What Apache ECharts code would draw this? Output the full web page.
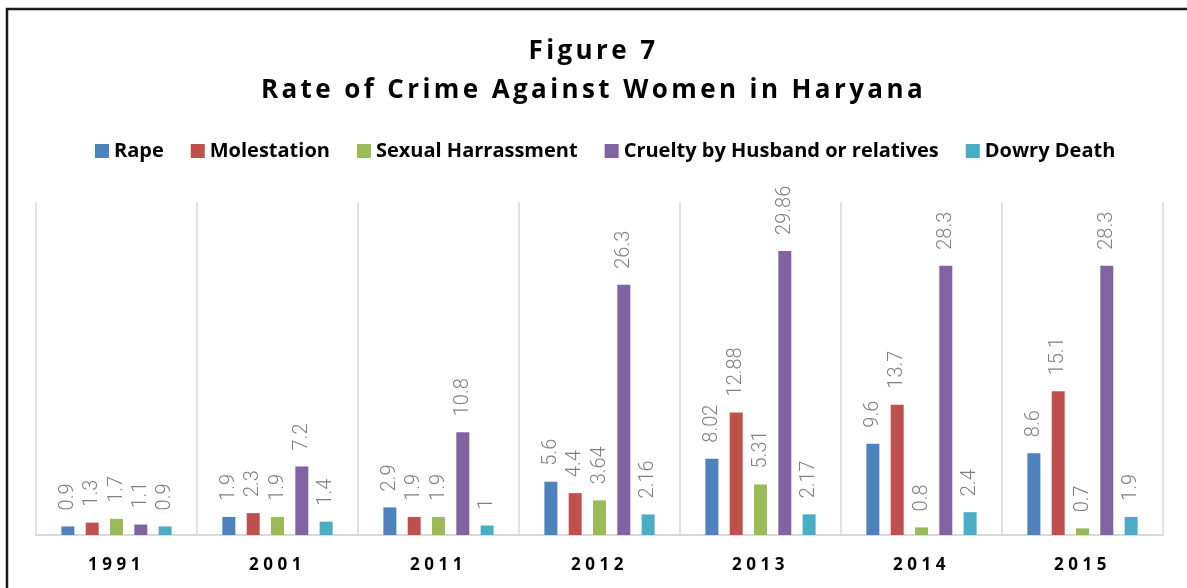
<!DOCTYPE html>
<html>
<head>
<meta charset="utf-8">
<title>Rate of Crime Against Women in Haryana</title>
<script src="https://cdn.jsdelivr.net/npm/echarts@6/dist/echarts.min.js"></script>
<style>
  html, body { margin: 0; padding: 0; background: #fff; }
  #chart { width: 1187px; height: 588px; }
</style>
</head>
<body>
<div id="chart"></div>
<script>
// data
const years = ['1991', '2001', '2011', '2012', '2013', '2014', '2015'];
const rape = [0.9, 1.9, 2.9, 5.6, 8.02, 9.6, 8.6];
const molestation = [1.3, 2.3, 1.9, 4.4, 12.88, 13.7, 15.1];
const harrassment = [1.7, 1.9, 1.9, 3.64, 5.31, 0.8, 0.7];
const cruelty = [1.1, 7.2, 10.8, 26.3, 29.86, 28.3, 28.3];
const dowry = [0.9, 1.4, 1, 2.16, 2.17, 2.4, 1.9];

const seriesNames = ['Rape', 'Molestation', 'Sexual Harrassment', 'Cruelty by Husband or relatives', 'Dowry Death'];
const seriesData = [rape, molestation, harrassment, cruelty, dowry];
const colors = ['#4F81BD', '#C0504D', '#9BBB59', '#8064A2', '#4BACC6'];

// title and year labels are letter-spaced in the original; zrender has no
// letterSpacing so we set it on the canvas context for those font sizes only
const TITLE_SIZE = 26;
const YEAR_SIZE = 17;
const spacing = { [TITLE_SIZE]: '3.4px', [YEAR_SIZE]: '4.5px' };
const origFillText = CanvasRenderingContext2D.prototype.fillText;
CanvasRenderingContext2D.prototype.fillText = function (text, x, y, maxWidth) {
  const m = /(\d+(?:\.\d+)?)px/.exec(this.font);
  const ls = m && spacing[Math.round(parseFloat(m[1]))];
  if (ls && 'letterSpacing' in this) {
    this.letterSpacing = ls;
    const r = maxWidth === undefined ? origFillText.call(this, text, x, y) : origFillText.call(this, text, x, y, maxWidth);
    this.letterSpacing = '0px';
    return r;
  }
  return maxWidth === undefined ? origFillText.call(this, text, x, y) : origFillText.call(this, text, x, y, maxWidth);
};

const chartDom = document.getElementById('chart');
const myChart = echarts.init(chartDom, null, { renderer: 'canvas' });

const option = {
  animation: false,
  color: colors,
  textStyle: { fontFamily: '"Open Sans", sans-serif' },
  title: {
    text: 'Figure 7\nRate of Crime Against Women in Haryana',
    left: 'center',
    top: 27,
    // uneven padding nudges the centred title a few px right, like the original
    padding: [5, 5, 5, 13],
    textStyle: {
      fontSize: TITLE_SIZE,
      fontWeight: 'bold',
      color: '#000',
      lineHeight: 39,
      fontFamily: '"Open Sans", sans-serif'
    }
  },
  legend: {
    data: seriesNames,
    left: 90,
    top: 136,
    icon: 'rect',
    itemWidth: 14,
    itemHeight: 14,
    itemGap: 27,
    textStyle: {
      fontSize: 20,
      fontWeight: 'bold',
      color: '#000'
    }
  },
  graphic: [
    {
      // outer frame (only top and left visible)
      type: 'rect',
      silent: true,
      shape: { x: 7, y: 9, width: 1300, height: 700 },
      style: { fill: 'none', stroke: '#1a1a1a', lineWidth: 2.5 }
    }
  ],
  grid: {
    left: 36,
    right: 24,
    top: 202,
    bottom: 53,
    containLabel: false
  },
  xAxis: {
    type: 'category',
    data: years,
    axisLine: { lineStyle: { color: '#d9d9d9', width: 2 } },
    axisTick: { show: false },
    splitLine: { show: true, lineStyle: { color: '#d9d9d9', width: 1.5 } },
    axisLabel: {
      fontSize: YEAR_SIZE,
      fontWeight: 'bold',
      color: '#000',
      margin: 22
    }
  },
  yAxis: {
    type: 'value',
    min: 0,
    max: 35,
    show: false,
    splitLine: { show: false }
  },
  series: seriesNames.map((name, i) => ({
    name: name,
    type: 'bar',
    data: seriesData[i],
    barWidth: 13,
    barGap: '87%',
    label: {
      show: true,
      position: 'top',
      rotate: 90,
      align: 'left',
      verticalAlign: 'middle',
      distance: 16,
      fontSize: 20,
      fontWeight: 300,
      fontFamily: 'Roboto, sans-serif',
      color: '#7f7f7f'
    }
  }))
};

option && myChart.setOption(option);
</script>
</body>
</html>
